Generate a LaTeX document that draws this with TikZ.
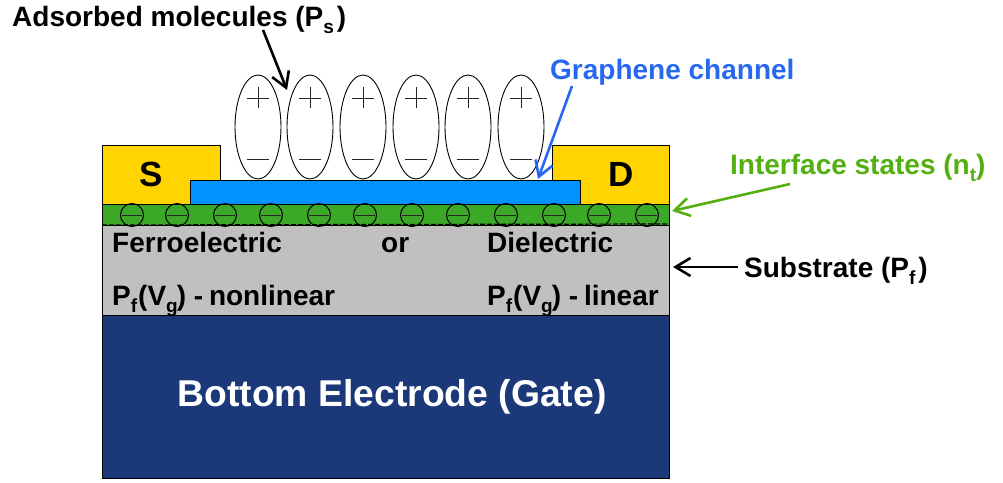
\documentclass[tikz,border=0pt]{standalone}
\usepackage{fontspec}
\setmainfont{Liberation Sans}
\usetikzlibrary{arrows.meta,shapes.geometric}
\definecolor{gold}{RGB}{255,212,0}
\definecolor{chan}{RGB}{0,146,255}
\definecolor{grn}{RGB}{60,168,40}
\definecolor{subst}{RGB}{192,192,192}
\definecolor{navy}{RGB}{27,57,120}
\definecolor{bluet}{RGB}{40,104,240}
\definecolor{greent}{RGB}{84,176,16}
\newcommand{\fsz}[1]{\fontsize{#1}{#1}\selectfont}
\newcommand{\dn}[1]{\raisebox{-0.26em}{\fontsize{19}{19}\selectfont #1}}
\tikzset{
  x=1pt,y=-1pt,
  lbl/.style={font=\bfseries\fsz{28},inner sep=0pt,anchor=base west},
  elec/.style={font=\bfseries\fsz{37.3},inner sep=0pt},
  mol/.style={draw=black,line width=0.9pt,ellipse,minimum width=46pt,minimum height=104pt,inner sep=0pt},
  chg/.style={draw=black,line width=1pt,circle,minimum size=23pt,inner sep=0pt},
  sign/.style={line width=1pt,black!85},
  tip/.style={-{Straight Barb[length=15pt,width=18pt,line width=2.6pt]},line width=2.6pt},
}
\begin{document}
\begin{tikzpicture}
\useasboundingbox (0,0) rectangle (1003,482);
% layers
\fill[navy] (102,315) rectangle (669,478);
\draw[black,line width=0.7pt] (102,315) rectangle (669,478);
\filldraw[fill=subst,draw=black,line width=0.7pt] (102,225) rectangle (669,315);
\filldraw[fill=gold,draw=black,line width=0.7pt] (102,145) rectangle (220,204);
\filldraw[fill=gold,draw=black,line width=0.7pt] (552,145) rectangle (669,204);
\filldraw[fill=grn,draw=none] (102,204) rectangle (669,225);
\draw[black,line width=0.8pt] (102,225) -- (102,204) -- (669,204) -- (669,225);
\filldraw[fill=chan,draw=black,line width=0.8pt] (190,180) rectangle (580,204);
% molecules
\foreach \n/\x in {1/258,2/310,3/363,4/416,5/468,6/521}{
  \node[mol] (m\n) at (\x,127) {};
  \draw[sign] (\x-11,98) -- (\x+11,98) (\x,87) -- (\x,108);
  \draw[sign] (\x-11,159) -- (\x+11,159);
}
% interface charges
\foreach \n/\x in {1/132,2/177,3/225,4/271,5/319,6/365,7/412,8/458,9/506,10/554,11/599,12/647}{
  \node[chg] (c\n) at (\x,215) {};
  \draw[sign] (\x-10,215) -- (\x+10,215);
}
\draw[black,dash pattern=on 5pt off 2pt,line width=1.2pt] (102,225) -- (669,224);
% contact letters
\node[font=\bfseries\fsz{35},inner sep=0pt] (s) at (151,174) {S};
\node[font=\bfseries\fsz{35},inner sep=0pt] (d) at (621,174) {D};
% labels in the substrate
\node[lbl] (fe) at (112,252) {Ferroelectric};
\node[lbl] (or) at (381,252) {or};
\node[lbl] (die) at (487,252) {Dielectric};
\node[lbl] (nl) at (112,305) {P\dn{f}\hspace{1pt}(V\dn{g}\hspace{-1pt}) -\hspace{-2pt} nonlinear};
\node[lbl] (li) at (487,305) {P\dn{f}\hspace{1pt}(V\dn{g}\hspace{-1pt}) -\hspace{-2pt} linear};
\node[elec,text=white,anchor=base] (gate) at (392,406) {Bottom Electrode (Gate)};
% callouts
\node[lbl] (ads) at (12,26) {Adsorbed molecules (P\dn{s}\hspace{3pt})};
\node[lbl,text=bluet] (gr) at (550,79) {Graphene channel};
\node[lbl,text=greent] (is) at (730,174) {Interface states (n\dn{t})};
\node[lbl] (su) at (744,277) {Substrate (P\dn{f}\hspace{3pt})};
\coordinate (ads0) at (263,30);
\coordinate (ads1) at (287,90);
\coordinate (gr0) at (572,86);
\coordinate (gr1) at (538,179);
\coordinate (is0) at (790,184);
\coordinate (is1) at (672,211);
\coordinate (su0) at (738,267);
\coordinate (su1) at (673,267);
\draw[tip,black] (ads0) -- (ads1);
\draw[tip,bluet] (gr0) -- (gr1);
\draw[tip,greent] (is0) -- (is1);
\draw[tip,black] (su0) -- (su1);
\end{tikzpicture}
\end{document}
